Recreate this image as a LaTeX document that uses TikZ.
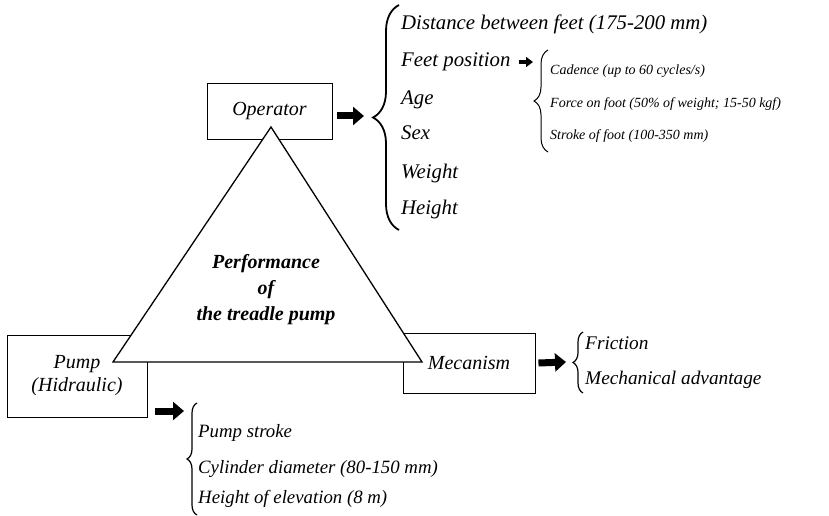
\documentclass[tikz,border=0pt]{standalone}
\usepackage{fontspec}
\setmainfont{Liberation Serif}
\usetikzlibrary{decorations.pathreplacing,arrows.meta}
\begin{document}
\begin{tikzpicture}[x=1pt,y=-1pt,
  box/.style={draw,line width=0.9pt,inner sep=0pt,font=\itshape\fontsize{20}{22}\selectfont},
  big/.style={anchor=base west,inner sep=0pt,font=\itshape\fontsize{20.8}{23}\selectfont},
  mecl/.style={anchor=base west,inner sep=0pt,font=\itshape\fontsize{19.3}{22}\selectfont},
  mid/.style={anchor=base west,inner sep=0pt,font=\itshape\fontsize{18.8}{21}\selectfont},
  small/.style={anchor=base west,inner sep=0pt,font=\itshape\fontsize{14}{16}\selectfont},
  fat/.style={line width=7pt,-{Triangle[length=11pt,width=18pt]}},
  slim/.style={line width=3.5pt,-{Triangle[length=7pt,width=10pt]}},
  brc/.style={decorate,decoration={brace,amplitude=#1}},
  ]
\useasboundingbox (0,0) rectangle (829,516);
\fill[white] (0,0) rectangle (829,516);

% boxes
\node[box,minimum width=125pt,minimum height=56pt] (op) at (269.5,111) {Operator};
\node[box,minimum width=140pt,minimum height=82pt,align=center] (pump) at (77,376) {Pump\\[1pt](Hidraulic)};
\node[box,minimum width=132pt,minimum height=60pt] (mec) at (469,363) {Mecanism};

% central triangle
\draw[line width=1.3pt,fill=white] (271,127) -- (113,362) -- (422,362) -- cycle;
\node[align=center,inner sep=0pt,font=\bfseries\itshape\fontsize{20}{26}\selectfont] (perf) at (266,290)
  {Performance\\of\\the treadle pump};

% operator branch
\coordinate (opar) at (364,116);
\draw[fat] ([xshift=5pt]op.east |- opar) -- (opar);
\draw[brc=26pt,line width=1.8pt] (399,230) -- (399,5);
\node[big] (d1) at (401,29.5) {Distance between feet (175-200 mm)};
\node[big] (d2) at (401,66.5) {Feet position};
\node[big] (d3) at (401,104.5) {Age};
\node[big] (d4) at (401,139.5) {Sex};
\node[big] (d5) at (401,178.5) {Weight};
\node[big] (d6) at (401,214.5) {Height};

\coordinate (fpar) at (533,62);
\draw[slim] ([xshift=8pt]d2.east |- fpar) -- (fpar);
\draw[brc=14pt,line width=1pt] (548,152) -- (548,50);
\node[small] (f1) at (550,74.5) {Cadence (up to 60 cycles/s)};
\node[small] (f2) at (550,107.5) {Force on foot (50\% of weight; 15-50 kgf)};
\node[small] (f3) at (550,139.5) {Stroke of foot (100-350 mm)};

% pump branch
\coordinate (pa) at (155,411);
\coordinate (pb) at (184,411);
\draw[fat] (pa) -- (pb);
\draw[brc=10pt,line width=1.2pt] (197,515) -- (197,403);
\node[mid] (p1) at (198,437.5) {Pump stroke};
\node[mid] (p2) at (198,473.5) {Cylinder diameter (80-150 mm)};
\node[mid] (p3) at (198,503.5) {Height of elevation (8 m)};

% mechanism branch
\coordinate (mar) at (566,362);
\draw[fat] ([xshift=3pt]mec.east) -- (mar);
\draw[brc=10pt,line width=1.2pt] (583,393) -- (583,332);
\node[mecl] (m1) at (585,349) {Friction};
\node[mecl] (m2) at (585,384) {Mechanical advantage};
\end{tikzpicture}
\end{document}
